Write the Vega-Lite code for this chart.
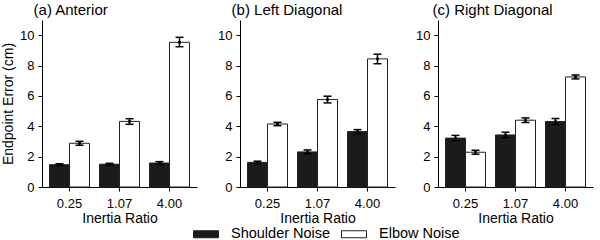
{
  "$schema": "https://vega.github.io/schema/vega-lite/v6.json",
  "padding": {"left": 1, "top": 3, "right": 6, "bottom": 0},
  "datasets": {
    "bars": [
      {"panel": "a", "ratio": "0.25", "noise": "Shoulder Noise", "mean": 1.47, "lo": 1.42, "hi": 1.53},
      {"panel": "a", "ratio": "0.25", "noise": "Elbow Noise", "mean": 2.88, "lo": 2.75, "hi": 3.01},
      {"panel": "a", "ratio": "1.07", "noise": "Shoulder Noise", "mean": 1.50, "lo": 1.44, "hi": 1.56},
      {"panel": "a", "ratio": "1.07", "noise": "Elbow Noise", "mean": 4.32, "lo": 4.13, "hi": 4.50},
      {"panel": "a", "ratio": "4.00", "noise": "Shoulder Noise", "mean": 1.58, "lo": 1.49, "hi": 1.67},
      {"panel": "a", "ratio": "4.00", "noise": "Elbow Noise", "mean": 9.53, "lo": 9.24, "hi": 9.86},
      {"panel": "b", "ratio": "0.25", "noise": "Shoulder Noise", "mean": 1.62, "lo": 1.54, "hi": 1.70},
      {"panel": "b", "ratio": "0.25", "noise": "Elbow Noise", "mean": 4.15, "lo": 4.04, "hi": 4.26},
      {"panel": "b", "ratio": "1.07", "noise": "Shoulder Noise", "mean": 2.31, "lo": 2.18, "hi": 2.44},
      {"panel": "b", "ratio": "1.07", "noise": "Elbow Noise", "mean": 5.76, "lo": 5.54, "hi": 5.98},
      {"panel": "b", "ratio": "4.00", "noise": "Shoulder Noise", "mean": 3.65, "lo": 3.52, "hi": 3.78},
      {"panel": "b", "ratio": "4.00", "noise": "Elbow Noise", "mean": 8.44, "lo": 8.12, "hi": 8.75},
      {"panel": "c", "ratio": "0.25", "noise": "Shoulder Noise", "mean": 3.22, "lo": 3.05, "hi": 3.40},
      {"panel": "c", "ratio": "0.25", "noise": "Elbow Noise", "mean": 2.29, "lo": 2.16, "hi": 2.42},
      {"panel": "c", "ratio": "1.07", "noise": "Shoulder Noise", "mean": 3.43, "lo": 3.25, "hi": 3.61},
      {"panel": "c", "ratio": "1.07", "noise": "Elbow Noise", "mean": 4.40, "lo": 4.25, "hi": 4.55},
      {"panel": "c", "ratio": "4.00", "noise": "Shoulder Noise", "mean": 4.31, "lo": 4.11, "hi": 4.51},
      {"panel": "c", "ratio": "4.00", "noise": "Elbow Noise", "mean": 7.25, "lo": 7.12, "hi": 7.38}
    ]
  },
  "spacing": 20,
  "align": "none",
  "bounds": "full",
  "hconcat": [
    {
      "width": 155, "height": 167,
      "title": {"text": "(a) Anterior", "dx": 32},
      "data": {"name": "bars"},
      "transform": [{"filter": "datum.panel === 'a'"}],
      "encoding": {
        "x": {"field": "ratio", "type": "nominal", "sort": null, "title": "Inertia Ratio", "scale": {"paddingInner": 0.2, "paddingOuter": 0.15}},
        "xOffset": {"field": "noise", "type": "nominal", "sort": ["Shoulder Noise", "Elbow Noise"]}
      },
      "layer": [
        {"mark": {"type": "bar", "stroke": "#222", "strokeWidth": 1},
         "encoding": {
           "y": {"field": "mean", "type": "quantitative", "title": "Endpoint Error (cm)", "scale": {"domain": [0, 11], "nice": false}, "axis": {"values": [0, 2, 4, 6, 8, 10], "labelOverlap": false}},
           "fill": {"field": "noise", "type": "nominal", "sort": ["Shoulder Noise", "Elbow Noise"], "scale": {"domain": ["Shoulder Noise", "Elbow Noise"], "range": ["#1b1b1b", "#ffffff"]}, "legend": {"title": null, "orient": "none", "legendX": 151, "legendY": 201, "direction": "horizontal"}}
         }},
        {"mark": {"type": "rule", "color": "#000", "strokeWidth": 1.5},
         "encoding": {"y": {"field": "lo", "type": "quantitative", "title": "Endpoint Error (cm)", "axis": {"values": [0, 2, 4, 6, 8, 10], "labelOverlap": false}}, "y2": {"field": "hi"}}},
        {"mark": {"type": "tick", "color": "#000", "size": 8, "thickness": 1.5, "opacity": 1},
         "encoding": {"y": {"field": "lo", "type": "quantitative", "title": "Endpoint Error (cm)", "axis": {"values": [0, 2, 4, 6, 8, 10], "labelOverlap": false}}}},
        {"mark": {"type": "tick", "color": "#000", "size": 8, "thickness": 1.5, "opacity": 1},
         "encoding": {"y": {"field": "hi", "type": "quantitative", "title": "Endpoint Error (cm)", "axis": {"values": [0, 2, 4, 6, 8, 10], "labelOverlap": false}}}},
        {"mark": {"type": "square", "color": "#000", "size": 7, "opacity": 1},
         "encoding": {"y": {"field": "mean", "type": "quantitative", "title": "Endpoint Error (cm)", "axis": {"values": [0, 2, 4, 6, 8, 10], "labelOverlap": false}}}}
      ]
    },
    {
      "width": 155, "height": 167,
      "title": {"text": "(b) Left Diagonal", "dx": 14},
      "data": {"name": "bars"},
      "transform": [{"filter": "datum.panel === 'b'"}],
      "encoding": {
        "x": {"field": "ratio", "type": "nominal", "sort": null, "title": "Inertia Ratio", "scale": {"paddingInner": 0.2, "paddingOuter": 0.15}},
        "xOffset": {"field": "noise", "type": "nominal", "sort": ["Shoulder Noise", "Elbow Noise"]}
      },
      "layer": [
        {"mark": {"type": "bar", "stroke": "#222", "strokeWidth": 1},
         "encoding": {
           "y": {"field": "mean", "type": "quantitative", "title": null, "scale": {"domain": [0, 11], "nice": false}, "axis": {"values": [0, 2, 4, 6, 8, 10], "labelOverlap": false}},
           "fill": {"field": "noise", "type": "nominal", "sort": ["Shoulder Noise", "Elbow Noise"], "scale": {"domain": ["Shoulder Noise", "Elbow Noise"], "range": ["#1b1b1b", "#ffffff"]}, "legend": {"title": null, "orient": "none", "legendX": 151, "legendY": 201, "direction": "horizontal"}}
         }},
        {"mark": {"type": "rule", "color": "#000", "strokeWidth": 1.5},
         "encoding": {"y": {"field": "lo", "type": "quantitative", "title": null, "axis": {"values": [0, 2, 4, 6, 8, 10], "labelOverlap": false}}, "y2": {"field": "hi"}}},
        {"mark": {"type": "tick", "color": "#000", "size": 8, "thickness": 1.5, "opacity": 1},
         "encoding": {"y": {"field": "lo", "type": "quantitative", "title": null, "axis": {"values": [0, 2, 4, 6, 8, 10], "labelOverlap": false}}}},
        {"mark": {"type": "tick", "color": "#000", "size": 8, "thickness": 1.5, "opacity": 1},
         "encoding": {"y": {"field": "hi", "type": "quantitative", "title": null, "axis": {"values": [0, 2, 4, 6, 8, 10], "labelOverlap": false}}}},
        {"mark": {"type": "square", "color": "#000", "size": 7, "opacity": 1},
         "encoding": {"y": {"field": "mean", "type": "quantitative", "title": null, "axis": {"values": [0, 2, 4, 6, 8, 10], "labelOverlap": false}}}}
      ]
    },
    {
      "width": 155, "height": 167,
      "title": {"text": "(c) Right Diagonal", "dx": 17},
      "data": {"name": "bars"},
      "transform": [{"filter": "datum.panel === 'c'"}],
      "encoding": {
        "x": {"field": "ratio", "type": "nominal", "sort": null, "title": "Inertia Ratio", "scale": {"paddingInner": 0.2, "paddingOuter": 0.15}},
        "xOffset": {"field": "noise", "type": "nominal", "sort": ["Shoulder Noise", "Elbow Noise"]}
      },
      "layer": [
        {"mark": {"type": "bar", "stroke": "#222", "strokeWidth": 1},
         "encoding": {
           "y": {"field": "mean", "type": "quantitative", "title": null, "scale": {"domain": [0, 11], "nice": false}, "axis": {"values": [0, 2, 4, 6, 8, 10], "labelOverlap": false}},
           "fill": {"field": "noise", "type": "nominal", "sort": ["Shoulder Noise", "Elbow Noise"], "scale": {"domain": ["Shoulder Noise", "Elbow Noise"], "range": ["#1b1b1b", "#ffffff"]}, "legend": {"title": null, "orient": "none", "legendX": 151, "legendY": 201, "direction": "horizontal"}}
         }},
        {"mark": {"type": "rule", "color": "#000", "strokeWidth": 1.5},
         "encoding": {"y": {"field": "lo", "type": "quantitative", "title": null, "axis": {"values": [0, 2, 4, 6, 8, 10], "labelOverlap": false}}, "y2": {"field": "hi"}}},
        {"mark": {"type": "tick", "color": "#000", "size": 8, "thickness": 1.5, "opacity": 1},
         "encoding": {"y": {"field": "lo", "type": "quantitative", "title": null, "axis": {"values": [0, 2, 4, 6, 8, 10], "labelOverlap": false}}}},
        {"mark": {"type": "tick", "color": "#000", "size": 8, "thickness": 1.5, "opacity": 1},
         "encoding": {"y": {"field": "hi", "type": "quantitative", "title": null, "axis": {"values": [0, 2, 4, 6, 8, 10], "labelOverlap": false}}}},
        {"mark": {"type": "square", "color": "#000", "size": 7, "opacity": 1},
         "encoding": {"y": {"field": "mean", "type": "quantitative", "title": null, "axis": {"values": [0, 2, 4, 6, 8, 10], "labelOverlap": false}}}}
      ]
    }
  ],
  "config": {
    "font": "Liberation Sans",
    "view": {"stroke": null},
    "axis": {"grid": false, "domainColor": "#000", "tickColor": "#000", "labelColor": "#000", "titleColor": "#000", "labelFontSize": 13, "titleFontSize": 14, "titleFontWeight": "normal", "tickSize": 4, "domainWidth": 1, "tickWidth": 1, "labelFont": "Liberation Sans", "titleFont": "Liberation Sans"},
    "axisX": {"labelAngle": 0, "labelPadding": 6, "titlePadding": 1},
    "axisY": {"labelPadding": 4, "titlePadding": 4},
    "title": {"fontSize": 15, "fontWeight": "normal", "anchor": "start", "offset": 2, "color": "#000", "font": "Liberation Sans"},
    "legend": {"labelFontSize": 14.5, "labelColor": "#000", "labelFont": "Liberation Sans", "symbolSize": 625, "symbolType": "M-1,-0.28H1V0.28H-1Z", "symbolStrokeColor": "#222", "symbolStrokeWidth": 1, "labelOffset": 12, "columnPadding": 8, "padding": 0}
  }
}
